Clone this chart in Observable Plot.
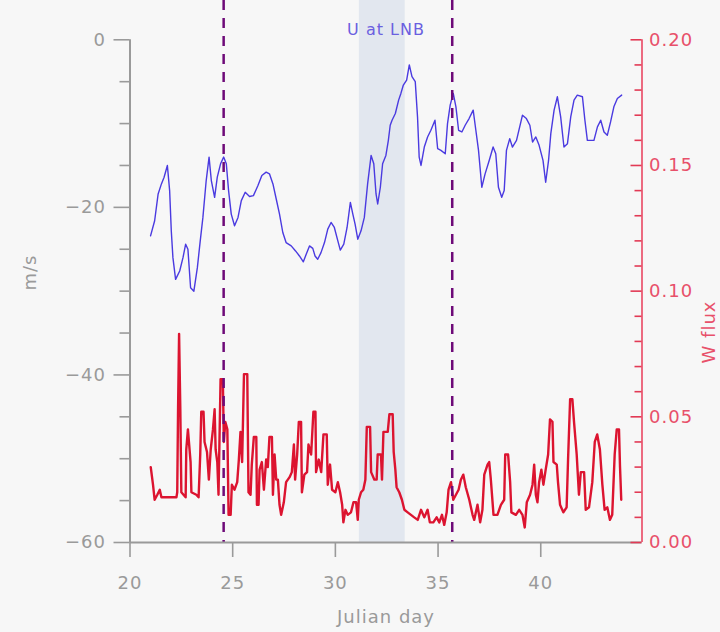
<!DOCTYPE html>
<html>
<head>
<meta charset="utf-8">
<script src="https://cdn.jsdelivr.net/npm/d3@7"></script>
<script src="https://cdn.jsdelivr.net/npm/@observablehq/plot@0.6"></script>
<style>
  html, body { margin: 0; padding: 0; background: #f7f7f7; }
  #chart svg { display: block; }
</style>
</head>
<body>
<div id="chart"></div>
<script>
// Zonal wind U at the level of neutral buoyancy (m/s), by Julian day
const uDays = [21.0,21.2,21.37,21.53,21.66,21.82,21.93,22.01,22.09,22.22,22.42,22.58,22.71,22.82,22.95,23.11,23.28,23.42,23.55,23.71,23.85,23.96,24.12,24.25,24.41,24.56,24.69,24.8,24.93,25.09,25.26,25.42,25.61,25.82,26.01,26.23,26.42,26.63,26.79,26.96,27.12,27.28,27.44,27.6,27.85,28.06,28.25,28.44,28.58,28.74,28.9,29.01,29.14,29.3,29.47,29.63,29.79,29.95,30.12,30.24,30.41,30.57,30.73,30.85,30.96,31.09,31.25,31.41,31.57,31.74,31.87,31.98,32.06,32.19,32.3,32.46,32.58,32.67,32.76,32.92,33.08,33.19,33.31,33.47,33.6,33.73,33.89,34.0,34.08,34.17,34.33,34.49,34.65,34.85,34.98,35.14,35.35,35.46,35.59,35.74,35.87,36.0,36.16,36.32,36.51,36.71,36.84,36.97,37.13,37.29,37.49,37.68,37.81,37.94,38.1,38.22,38.33,38.49,38.62,38.82,39.11,39.3,39.47,39.6,39.76,39.92,40.11,40.24,40.38,40.49,40.65,40.81,40.97,41.13,41.3,41.46,41.62,41.78,42.03,42.15,42.27,42.43,42.59,42.76,42.92,43.08,43.24,43.4,43.56,43.73,43.94];
const uLNB = [-23.4,-21.6,-18.4,-17.2,-16.4,-15.0,-18.0,-22.8,-26.0,-28.6,-27.6,-26.0,-24.4,-25.0,-29.6,-30.0,-27.2,-24.0,-21.2,-16.8,-14.0,-16.8,-18.8,-16.4,-14.8,-14.0,-14.8,-18.0,-20.8,-22.2,-21.2,-19.2,-18.2,-18.7,-18.6,-17.4,-16.2,-15.8,-16.0,-17.2,-19.0,-20.8,-23.0,-24.2,-24.6,-25.2,-25.8,-26.5,-25.6,-24.6,-24.9,-25.8,-26.2,-25.4,-24.2,-22.6,-21.8,-22.4,-24.0,-25.1,-24.4,-22.4,-19.4,-20.8,-22.0,-23.8,-22.8,-21.2,-17.2,-13.8,-14.8,-18.4,-19.6,-17.6,-14.8,-13.8,-12.0,-10.2,-9.6,-8.8,-7.2,-6.4,-5.4,-4.8,-3.0,-4.4,-5.0,-9.2,-14.0,-15.0,-12.8,-11.6,-10.8,-9.6,-13.0,-13.2,-13.6,-10.0,-7.8,-6.4,-8.0,-10.8,-11.0,-10.2,-9.4,-8.4,-10.8,-13.2,-17.6,-16.0,-14.4,-12.8,-13.6,-17.6,-18.8,-18.0,-13.2,-11.8,-12.8,-12.0,-9.0,-9.4,-10.2,-12.2,-11.6,-12.6,-14.4,-17.0,-14.4,-11.2,-8.4,-6.8,-9.2,-12.8,-12.4,-9.2,-7.2,-6.6,-6.8,-9.6,-12.0,-12.0,-12.0,-10.4,-9.6,-11.0,-11.4,-9.8,-8.0,-7.0,-6.6];

// W flux (right axis), by Julian day
const wDays = [21.01,21.12,21.2,21.33,21.45,21.53,22.26,22.3,22.34,22.39,22.45,22.5,22.71,22.74,22.82,22.95,22.99,23.23,23.34,23.42,23.47,23.58,23.63,23.75,23.84,23.93,24.04,24.12,24.17,24.25,24.31,24.41,24.52,24.57,24.64,24.74,24.8,24.9,24.96,25.09,25.22,25.3,25.38,25.46,25.55,25.71,25.74,25.77,25.87,25.93,26.03,26.15,26.18,26.26,26.31,26.42,26.52,26.63,26.71,26.79,26.91,26.96,27.04,27.12,27.2,27.28,27.36,27.49,27.6,27.77,27.88,27.98,28.04,28.14,28.22,28.33,28.37,28.49,28.62,28.69,28.82,28.93,29.03,29.06,29.19,29.31,29.42,29.58,29.63,29.74,29.84,30.0,30.12,30.23,30.33,30.39,30.49,30.6,30.76,30.88,31.01,31.09,31.14,31.25,31.36,31.46,31.53,31.69,31.74,31.9,32.01,32.06,32.22,32.27,32.34,32.55,32.63,32.79,32.84,32.92,32.98,33.11,33.24,33.36,33.52,33.68,33.84,34.01,34.17,34.33,34.49,34.6,34.77,34.93,35.06,35.19,35.3,35.42,35.51,35.63,35.74,35.87,36.0,36.11,36.23,36.35,36.52,36.68,36.76,36.92,37.05,37.16,37.25,37.41,37.49,37.57,37.7,37.89,38.06,38.22,38.27,38.41,38.51,38.57,38.79,38.95,39.11,39.22,39.32,39.48,39.6,39.68,39.76,39.84,39.92,40.03,40.13,40.24,40.36,40.45,40.57,40.62,40.78,40.84,40.94,41.1,41.26,41.33,41.43,41.54,41.62,41.75,41.86,41.95,42.11,42.19,42.35,42.51,42.63,42.75,42.88,43.0,43.11,43.24,43.37,43.48,43.6,43.7,43.81,43.86,43.92];
const wFlux = [0.030,0.023,0.017,0.019,0.021,0.018,0.018,0.020,0.053,0.083,0.053,0.020,0.018,0.037,0.045,0.032,0.020,0.019,0.018,0.035,0.052,0.052,0.040,0.036,0.025,0.037,0.045,0.053,0.037,0.032,0.019,0.065,0.065,0.040,0.048,0.045,0.011,0.011,0.023,0.021,0.024,0.033,0.044,0.032,0.067,0.067,0.043,0.020,0.019,0.031,0.042,0.042,0.015,0.015,0.029,0.032,0.021,0.033,0.030,0.042,0.042,0.019,0.035,0.025,0.025,0.015,0.011,0.016,0.024,0.026,0.028,0.039,0.025,0.035,0.048,0.048,0.020,0.027,0.028,0.039,0.035,0.052,0.052,0.028,0.033,0.028,0.043,0.043,0.023,0.031,0.021,0.020,0.024,0.020,0.015,0.008,0.013,0.011,0.012,0.016,0.016,0.009,0.017,0.020,0.021,0.025,0.046,0.046,0.028,0.025,0.025,0.035,0.035,0.025,0.044,0.044,0.051,0.051,0.036,0.029,0.022,0.020,0.017,0.013,0.012,0.011,0.010,0.009,0.013,0.010,0.013,0.008,0.008,0.010,0.008,0.011,0.007,0.012,0.021,0.024,0.017,0.019,0.021,0.025,0.027,0.022,0.017,0.011,0.009,0.015,0.008,0.013,0.027,0.031,0.032,0.025,0.011,0.011,0.015,0.017,0.035,0.035,0.024,0.012,0.011,0.013,0.011,0.006,0.016,0.019,0.023,0.031,0.019,0.016,0.024,0.029,0.023,0.029,0.035,0.049,0.048,0.032,0.031,0.024,0.015,0.012,0.014,0.033,0.057,0.057,0.048,0.035,0.019,0.028,0.028,0.013,0.014,0.024,0.040,0.043,0.037,0.023,0.013,0.014,0.009,0.011,0.035,0.045,0.045,0.030,0.017];

// Highlighted period and the two event days
const shadedPeriod = [{start: 31.17, end: 33.4}];
const eventDays = [24.56, 35.69];

// Axis definitions
const xDomain = [20, 44.93];
const xTicks = [20, 25, 30, 35, 40];
const uRange = [-60, 0];
const uTop = 4.69;                 // headroom above 0 m/s for the title
const uMajor = [0, -20, -40, -60];
const uMinor = [-5, -10, -15, -25, -30, -35, -45, -50, -55];
const wRange = [0, 0.20];
const wMajor = [0, 0.05, 0.10, 0.15, 0.20];
const wMinor = [0.01,0.02,0.03,0.04,0.06,0.07,0.08,0.09,0.11,0.12,0.13,0.14,0.16,0.17,0.18,0.19];

// Map W flux onto the U scale so both series share one plot frame
const wToU = w => uRange[0] + (w - wRange[0]) / (wRange[1] - wRange[0]) * (uRange[1] - uRange[0]);

const uData = uDays.map((d, i) => ({day: d, u: uLNB[i]}));
const wData = wDays.map((d, i) => ({day: d, w: wFlux[i]}));

const W = 720, H = 632;
const mL = 129.5, mR = 78.5, mT = 0, mB = 90;
const frameW = W - mL - mR;

const gray = "#9a9a9a";
const red = "#e23a55";
const redLight = "#ec6a80";
const blue = "#4a3ae0";
const font = 18;

const chart = Plot.plot({
  width: W,
  height: H,
  marginLeft: mL,
  marginRight: mR,
  marginTop: mT,
  marginBottom: mB,
  x: {domain: xDomain},
  y: {domain: [uRange[0], uTop]},
  style: {background: "#f7f7f7", fontFamily: "DejaVu Sans", letterSpacing: "1px", overflow: "visible"},
  marks: [
    Plot.rect(shadedPeriod, {x1: "start", x2: "end", fill: "#e2e7ef"}),
    Plot.line(wData, {x: "day", y: d => wToU(d.w), stroke: "#dc1430", strokeWidth: 2.4}),
    Plot.line(uData, {x: "day", y: "u", stroke: blue, strokeWidth: 1.4}),
    Plot.ruleX(eventDays, {stroke: "#6e0a78", strokeWidth: 2.5, strokeDasharray: "10,8"}),

    // bottom axis
    Plot.ruleY([uRange[0]], {stroke: gray, strokeWidth: 2}),
    Plot.axisX({ticks: xTicks, tickSize: 15, tickPadding: 19, fontSize: font, color: gray, strokeWidth: 1.6, label: null}),
    Plot.text(["Julian day"], {frameAnchor: "bottom", dy: 75, fontSize: font, fill: gray, lineAnchor: "middle"}),

    // left axis (m/s)
    Plot.ruleX([xDomain[0]], {y1: uRange[0], y2: uRange[1], stroke: gray, strokeWidth: 2}),
    Plot.axisY({ticks: uMajor, tickSize: 16, tickPadding: 8, fontSize: font, color: gray, strokeWidth: 1.6, label: null}),
    Plot.axisY({ticks: uMinor, tickSize: 10, tickFormat: () => "", color: gray, strokeWidth: 1.6, label: null}),
    Plot.text(["m/s"], {frameAnchor: "left", dx: -100, dy: 19, rotate: -90, fontSize: font, fill: gray}),

    // right axis (W flux), ticks pointing inward
    Plot.ruleX([xDomain[1]], {y1: uRange[0], y2: uRange[1], stroke: redLight, strokeWidth: 2}),
    Plot.tickY(wMajor, {y: wToU, insetLeft: frameW - 11, stroke: red, strokeWidth: 1.6}),
    Plot.tickY(wMinor, {y: wToU, insetLeft: frameW - 7, stroke: red, strokeWidth: 1.6}),
    Plot.text(wMajor, {y: wToU, text: d3.format(".2f"), frameAnchor: "right", dx: 7, textAnchor: "start", fontSize: font, fill: "#e8506a"}),
    Plot.text(["W flux"], {frameAnchor: "right", dx: 67, dy: 29, rotate: -90, fontSize: font, fill: "#e8506a"}),

    // series title
    Plot.text(["U at LNB"], {frameAnchor: "top", dy: 23, fontSize: 16, fill: "#6b5fe0"})
  ]
});

document.getElementById("chart").appendChild(chart);
</script>
</body>
</html>
